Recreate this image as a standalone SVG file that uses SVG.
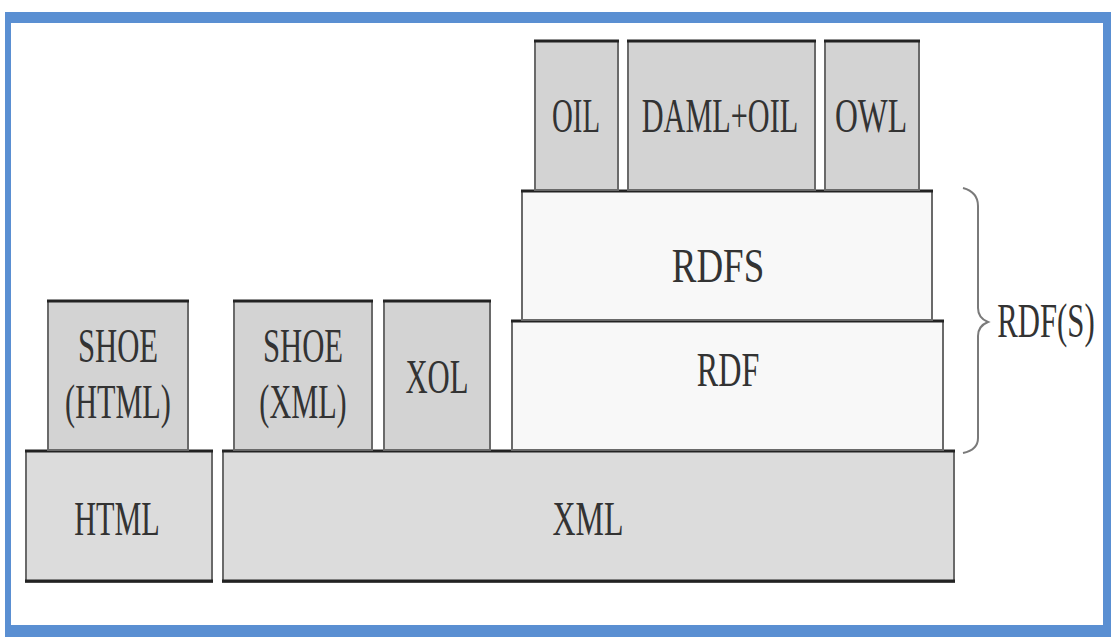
<svg xmlns="http://www.w3.org/2000/svg" width="1111" height="639" viewBox="0 0 1111 639">
<style>
.box{stroke:#6a6a6a;stroke-width:2}
.dark{fill:#d3d3d3}
.mid{fill:#dcdcdc}
.light{fill:#f8f8f8}
.top{stroke:#222;stroke-width:3}
.lbl{font-family:"Liberation Serif","DejaVu Serif",serif;font-size:48px;fill:#333;text-anchor:middle}
</style>
<rect x="5" y="12" width="1106" height="625" fill="#5a8fd2"/>
<rect x="11" y="23" width="1092" height="602" fill="#ffffff"/>

<g id="HTML">
<rect class="box mid" x="26" y="451" width="186" height="131"/>
<line class="top" x1="25" y1="451" x2="213" y2="451"/>
<line class="top" x1="25" y1="581" x2="213" y2="581"/>
<text class="lbl" transform="translate(117,535) scale(0.63,1)">HTML</text>
</g>
<g id="XML">
<rect class="box mid" x="223" y="451" width="731" height="131"/>
<line class="top" x1="222" y1="451" x2="955" y2="451"/>
<line class="top" x1="222" y1="581" x2="955" y2="581"/>
<text class="lbl" transform="translate(588,535) scale(0.665,1)">XML</text>
</g>
<g id="SHOE_HTML">
<rect class="box dark" x="48" y="301" width="140" height="149"/>
<line class="top" x1="47" y1="301" x2="189" y2="301"/>
<text class="lbl" transform="translate(118,362) scale(0.64,1)">SHOE</text>
<text class="lbl" transform="translate(118,418) scale(0.63,1)">(HTML)</text>
</g>
<g id="SHOE_XML">
<rect class="box dark" x="234" y="301" width="138" height="149"/>
<line class="top" x1="233" y1="301" x2="373" y2="301"/>
<text class="lbl" transform="translate(303,362) scale(0.64,1)">SHOE</text>
<text class="lbl" transform="translate(303,418) scale(0.63,1)">(XML)</text>
</g>
<g id="XOL">
<rect class="box dark" x="384" y="301" width="106" height="149"/>
<line class="top" x1="383" y1="301" x2="491" y2="301"/>
<text class="lbl" transform="translate(437,393) scale(0.64,1)">XOL</text>
</g>
<g id="RDF">
<rect class="box light" x="512" y="321" width="431" height="129"/>
<line class="top" x1="511" y1="321" x2="944" y2="321"/>
<text class="lbl" transform="translate(728,386) scale(0.67,1)">RDF</text>
</g>
<g id="RDFS">
<rect class="box light" x="522" y="191" width="410" height="129"/>
<line class="top" x1="521" y1="191" x2="933" y2="191"/>
<text class="lbl" transform="translate(718,282) scale(0.77,1)">RDFS</text>
</g>
<g id="OIL">
<rect class="box dark" x="535" y="41" width="83" height="149"/>
<line class="top" x1="534" y1="41" x2="619" y2="41"/>
<text class="lbl" transform="translate(576,132) scale(0.6,1)">OIL</text>
</g>
<g id="DAML_OIL">
<rect class="box dark" x="628" y="41" width="187" height="149"/>
<line class="top" x1="627" y1="41" x2="816" y2="41"/>
<text class="lbl" transform="translate(720,132) scale(0.63,1)">DAML+OIL</text>
</g>
<g id="OWL">
<rect class="box dark" x="825" y="41" width="94" height="149"/>
<line class="top" x1="824" y1="41" x2="920" y2="41"/>
<text class="lbl" transform="translate(871,132) scale(0.66,1)">OWL</text>
</g>
<g id="connectors">
<path d="M963 188 Q978 192 978 206 L978 308 Q978 318 988 322 Q978 326 978 336 L978 438 Q978 450 963 453" fill="none" stroke="#7a7a7a" stroke-width="2"/>
</g>
<g id="RDF_S_label">
<text class="lbl" transform="translate(1046,337) scale(0.64,1)">RDF(S)</text>
</g>
</svg>
